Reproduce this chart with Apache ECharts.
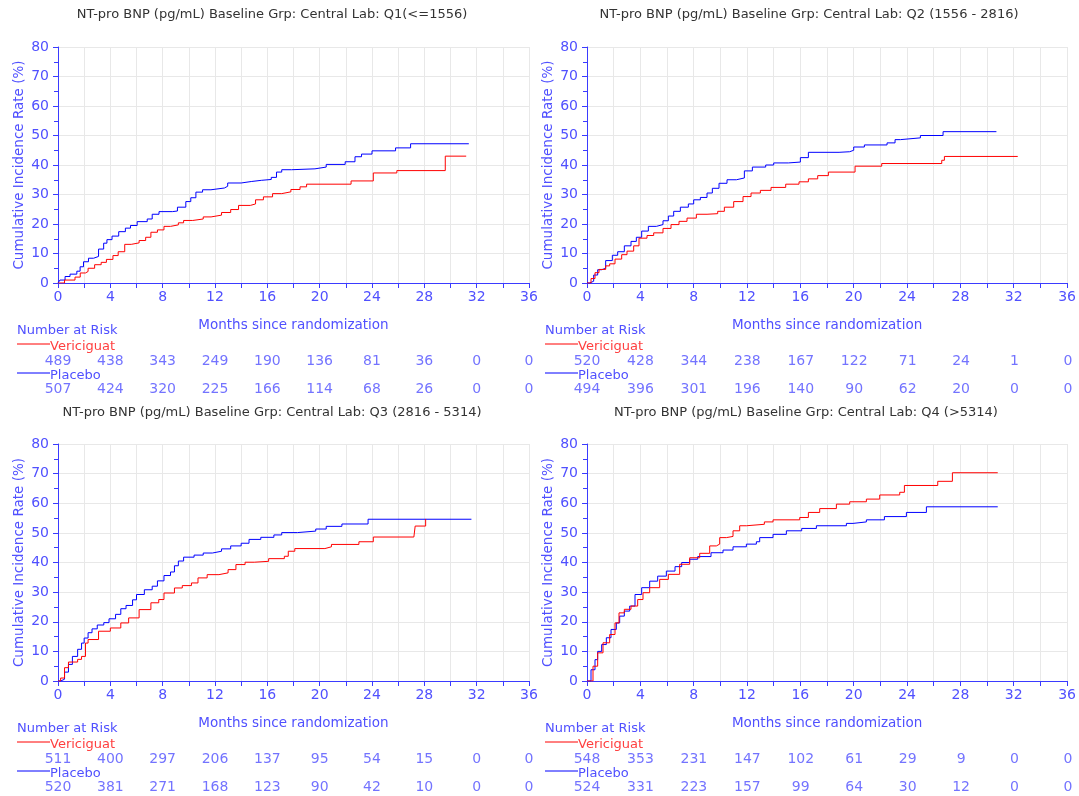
<!DOCTYPE html>
<html><head><meta charset="utf-8">
<script src="https://cdn.jsdelivr.net/npm/echarts@6/dist/echarts.min.js"></script>
<style>html,body{margin:0;padding:0;background:#fff}#c{width:1079px;height:796px}</style>
</head><body><div id="c"></div>
<script>
const panelTitles = [
  'NT-pro BNP (pg/mL) Baseline Grp: Central Lab: Q1(<=1556)',
  'NT-pro BNP (pg/mL) Baseline Grp: Central Lab: Q2 (1556 - 2816)',
  'NT-pro BNP (pg/mL) Baseline Grp: Central Lab: Q3 (2816 - 5314)',
  'NT-pro BNP (pg/mL) Baseline Grp: Central Lab: Q4 (>5314)'
];
const groupNames = ['Vericiguat', 'Placebo'];
const riskMonths = [0, 4, 8, 12, 16, 20, 24, 28, 32, 36];

const q1Vericiguat = [[0,0],[0.5,1.0],[1.3,2.0],[1.7,3.4],[2.1,3.9],[2.3,5.0],[2.8,6.2],[3.3,7.0],[3.7,8.0],[4.2,9.3],[4.6,10.6],[5.1,13.1],[5.6,13.6],[6.2,14.4],[6.7,15.5],[7.1,17.2],[7.6,18.0],[8.1,19.2],[8.6,19.7],[9.2,20.4],[9.6,21.2],[10.3,21.7],[11.1,22.4],[11.7,23.0],[12.5,23.9],[13.2,24.9],[13.8,26.3],[14.7,26.8],[15.1,28.2],[15.7,29.2],[16.4,30.3],[17.1,30.9],[17.8,31.7],[18.5,32.6],[19.0,33.5],[22.4,34.6],[24.1,37.3],[25.9,38.1],[29.6,43.0],[31.2,43.0]];
const q1Placebo = [[0,0],[0.15,1.0],[0.54,2.2],[0.92,3.0],[1.44,4.0],[1.69,5.5],[1.95,7.2],[2.33,8.4],[2.72,9.0],[3.1,11.5],[3.49,13.5],[3.74,14.7],[4.13,15.9],[4.64,17.4],[5.15,18.6],[5.54,19.5],[6.05,20.8],[6.82,21.7],[7.2,23.3],[7.72,24.2],[8.74,24.4],[9.13,25.7],[9.77,27.6],[10.15,28.9],[10.54,30.8],[11.05,31.6],[11.69,32.2],[12.72,32.8],[12.97,33.9],[14,34.4],[14.77,34.8],[15.54,35.1],[16.3,35.8],[16.7,37.6],[17.1,38.4],[17.85,38.7],[19.64,39.3],[20.5,40.2],[21.95,41.1],[22.7,42.8],[23.2,43.7],[24,44.8],[25.8,45.8],[26.95,47.2],[31.4,47.2]];
const q2Vericiguat = [[0,0],[0.3,1.5],[0.6,3.5],[0.9,4.6],[1.4,5.8],[1.7,6.5],[2.1,8.1],[2.6,9.6],[3.0,10.8],[3.5,12.6],[3.9,15.2],[4.5,16.1],[5.0,17.0],[5.7,18.5],[6.3,19.8],[6.9,20.9],[7.5,22.0],[8.2,23.3],[9.0,23.5],[9.8,24.3],[10.3,25.7],[11.0,27.6],[11.7,29.3],[12.3,30.5],[13.0,31.4],[13.8,32.4],[14.9,33.5],[15.9,34.3],[16.6,35.3],[17.3,36.4],[18.1,37.6],[20.1,39.6],[22.1,40.5],[26.6,41.6],[26.8,42.9],[32.3,42.9]];
const q2Placebo = [[0,0],[0.2,0.6],[0.5,2.7],[0.8,4.5],[1.1,5.0],[1.4,7.6],[1.9,9.4],[2.3,10.6],[2.8,12.6],[3.3,14.1],[3.7,15.5],[4.1,17.6],[4.6,19.2],[5.2,19.8],[5.7,21.1],[6.1,22.7],[6.5,24.3],[7.0,25.7],[7.6,26.8],[8.0,28.2],[8.5,29.0],[9.0,30.5],[9.4,32.1],[9.9,33.8],[10.5,35.0],[11.2,35.6],[11.8,38.0],[12.4,39.3],[13.4,40.0],[14.0,40.7],[15.1,41.0],[16.0,42.5],[16.6,44.3],[18.9,44.5],[19.7,45.0],[20.0,46.1],[20.8,46.8],[22.5,47.5],[23.1,48.6],[23.5,49.2],[25.0,50.0],[26.7,51.3],[30.7,51.3]];
const q3Vericiguat = [[0,0],[0.2,1.0],[0.5,4.5],[0.8,6.4],[1.5,7.3],[1.8,8.3],[2.1,12.8],[2.3,14.0],[3.1,16.8],[4.0,17.9],[4.8,19.6],[5.4,21.3],[6.2,24.1],[7.1,26.4],[7.7,27.5],[8.1,29.7],[8.9,31.4],[9.5,32.2],[10.2,33.1],[10.7,34.8],[11.4,35.9],[12.3,36.5],[13.0,37.6],[13.6,39.3],[14.3,40.1],[15.0,40.4],[16.1,41.3],[17.3,42.1],[17.6,43.8],[18.1,44.7],[20.4,45.3],[20.9,46.1],[23.0,47.0],[24.1,48.6],[27.2,48.9],[27.3,52.3],[28.1,54.7],[28.15,54.7]];
const q3Placebo = [[0,0],[0.2,0.6],[0.5,3.0],[0.8,5.6],[1.1,8.3],[1.5,10.7],[1.8,12.8],[2.0,14.5],[2.3,16.3],[2.6,17.6],[3.0,18.9],[3.5,19.7],[3.9,21.0],[4.4,22.5],[4.8,24.4],[5.2,25.5],[5.7,27.4],[6.0,29.2],[6.6,30.8],[7.2,32.0],[7.6,33.8],[8.1,35.6],[8.6,36.8],[8.9,38.9],[9.2,40.5],[9.6,41.8],[10.4,42.5],[11.1,43.2],[11.8,43.8],[12.5,44.6],[13.2,45.6],[14.0,46.5],[14.6,47.8],[15.5,48.5],[16.5,49.3],[17.1,50.1],[18.3,50.6],[19.7,51.3],[20.5,52.2],[21.7,53.0],[23.7,54.6],[31.6,54.6]];
const q4Vericiguat = [[0,0],[0.45,5.0],[0.8,9.5],[1.2,12.9],[1.7,15.7],[2.1,19.6],[2.4,23.0],[2.8,24.2],[3.3,25.3],[3.8,27.5],[4.2,29.8],[4.7,31.5],[5.45,34.3],[6.1,36.0],[6.95,39.4],[7.7,41.6],[8.45,43.1],[9.2,45.6],[9.7,46.2],[9.95,48.4],[10.45,48.8],[10.95,50.7],[11.45,52.4],[11.95,52.9],[13.3,53.7],[13.95,54.4],[15.95,55.2],[16.6,56.9],[17.45,58.2],[18.7,59.7],[19.7,60.5],[20.95,61.4],[21.95,62.8],[23.45,63.7],[23.8,66.0],[26.3,67.4],[27.4,70.3],[30.8,70.3]];
const q4Placebo = [[0,0],[0.3,3.8],[0.6,7.2],[0.8,10.0],[1.1,12.3],[1.45,14.6],[1.8,17.4],[2.2,19.6],[2.45,21.9],[2.8,23.6],[3.2,25.3],[3.6,29.2],[4.1,31.5],[4.7,33.7],[5.3,35.4],[5.95,37.1],[6.6,38.6],[7.1,40.0],[7.7,41.1],[8.3,42.0],[9.3,43.3],[10.2,44.2],[10.95,45.3],[11.95,46.2],[12.7,47.0],[12.95,48.4],[13.95,49.5],[14.95,50.7],[16.1,51.5],[17.2,52.4],[19.45,53.2],[19.95,53.7],[20.95,54.4],[22.3,55.5],[23.95,56.9],[25.45,58.8],[30.8,58.8]];

const q1RiskVericiguat = [489, 438, 343, 249, 190, 136, 81, 36, 0, 0];
const q1RiskPlacebo    = [507, 424, 320, 225, 166, 114, 68, 26, 0, 0];
const q2RiskVericiguat = [520, 428, 344, 238, 167, 122, 71, 24, 1, 0];
const q2RiskPlacebo    = [494, 396, 301, 196, 140, 90, 62, 20, 0, 0];
const q3RiskVericiguat = [511, 400, 297, 206, 137, 95, 54, 15, 0, 0];
const q3RiskPlacebo    = [520, 381, 271, 168, 123, 90, 42, 10, 0, 0];
const q4RiskVericiguat = [548, 353, 231, 147, 102, 61, 29, 9, 0, 0];
const q4RiskPlacebo    = [524, 331, 223, 157, 99, 64, 30, 12, 0, 0];

const curves = [[q1Vericiguat, q1Placebo],[q2Vericiguat, q2Placebo],[q3Vericiguat, q3Placebo],[q4Vericiguat, q4Placebo]];
const risks = [[q1RiskVericiguat, q1RiskPlacebo],[q2RiskVericiguat, q2RiskPlacebo],[q3RiskVericiguat, q3RiskPlacebo],[q4RiskVericiguat, q4RiskPlacebo]];

const FONT = 'DejaVu Sans';
const RED = '#ff0000', BLUE = '#0000ff';
const AXIS = '#3b3bff', LABEL = '#5050ff';

const layout = [
  {left:58, width:471, top:47, height:236, titleX:272, titleY:15, riskTop:361, nrY:331, leg1:344, leg2:373, lx:17},
  {left:587, width:481, top:47, height:236, titleX:809, titleY:15, riskTop:361, nrY:331, leg1:344, leg2:373, lx:545},
  {left:58, width:471, top:444, height:237, titleX:272, titleY:413, riskTop:759, nrY:729, leg1:742, leg2:771, lx:17},
  {left:587, width:481, top:444, height:237, titleX:806, titleY:413, riskTop:759, nrY:729, leg1:742, leg2:771, lx:545}
];

const grid = [], xAxis = [], yAxis = [], series = [], graphic = [];
layout.forEach((L, i) => {
  grid.push({left:L.left, top:L.top, width:L.width, height:L.height});
  grid.push({left:L.left, top:L.riskTop, width:L.width, height:28});
  const gi = i*2;
  xAxis.push({
    gridIndex:gi, type:'value', min:0, max:36, interval:4,
    name:'Months since randomization', nameLocation:'middle', nameGap:35,
    nameTextStyle:{color:LABEL, fontFamily:FONT, fontSize:13.5},
    axisLine:{show:true, onZero:false, lineStyle:{color:AXIS, width:1}},
    axisTick:{show:true, length:5, lineStyle:{color:AXIS}},
    minorTick:{show:true, splitNumber:2, length:5, lineStyle:{color:AXIS}},
    axisLabel:{color:LABEL, fontFamily:FONT, fontSize:14, margin:7},
    splitLine:{show:true, lineStyle:{color:'#e8e8e8'}},
    minorSplitLine:{show:true, lineStyle:{color:'#e8e8e8'}}
  });
  yAxis.push({
    gridIndex:gi, type:'value', min:0, max:80, interval:10, offset:3,
    name:'Cumulative Incidence Rate (%)', nameLocation:'middle', nameGap:29,
    nameTextStyle:{color:LABEL, fontFamily:FONT, fontSize:13.5},
    axisLine:{show:true, lineStyle:{color:AXIS, width:1}},
    axisTick:{show:true, length:5, lineStyle:{color:AXIS}},
    minorTick:{show:true, splitNumber:2, length:4, lineStyle:{color:AXIS}},
    axisLabel:{color:LABEL, fontFamily:FONT, fontSize:14, margin:6},
    splitLine:{show:true, lineStyle:{color:'#e8e8e8'}}
  });
  xAxis.push({gridIndex:gi+1, type:'value', min:0, max:36, show:false});
  yAxis.push({gridIndex:gi+1, type:'value', min:0, max:1, show:false});
  const cols = [RED, BLUE];
  curves[i].forEach((d, k) => {
    series.push({
      type:'line', name:groupNames[k], xAxisIndex:gi, yAxisIndex:gi, data:d,
      step:'end', symbol:'none', silent:true, animation:false,
      lineStyle:{color:cols[k], width:1}, z: k===0 ? 3 : 2
    });
  });
  risks[i].forEach((arr, k) => {
    series.push({
      type:'scatter', xAxisIndex:gi+1, yAxisIndex:gi+1, symbolSize:1, animation:false, silent:true,
      itemStyle:{color:'rgba(0,0,0,0)'},
      data: arr.map((v, j) => [riskMonths[j], k===0 ? 1 : 0, v]),
      label:{show:true, position:'inside', color:LABEL, fontFamily:FONT, fontSize:14,
        formatter: p => String(p.value[2])}
    });
  });
  graphic.push({type:'text', x:L.titleX, y:L.titleY, style:{text:panelTitles[i], fill:'#333', font:'13px "'+FONT+'"', textAlign:'center', textVerticalAlign:'middle'}});
  graphic.push({type:'text', x:L.lx, y:L.nrY, style:{text:'Number at Risk', fill:LABEL, font:'13px "'+FONT+'"', textAlign:'left', textVerticalAlign:'middle'}});
  graphic.push({type:'line', shape:{x1:L.lx, y1:L.leg1, x2:L.lx+33, y2:L.leg1}, style:{stroke:RED, lineWidth:1}});
  graphic.push({type:'text', x:L.lx+33, y:L.leg1+3, style:{text:groupNames[0], fill:'#ff4040', font:'13px "'+FONT+'"', textAlign:'left', textVerticalAlign:'middle'}});
  graphic.push({type:'line', shape:{x1:L.lx, y1:L.leg2, x2:L.lx+33, y2:L.leg2}, style:{stroke:BLUE, lineWidth:1}});
  graphic.push({type:'text', x:L.lx+33, y:L.leg2+3, style:{text:groupNames[1], fill:LABEL, font:'13px "'+FONT+'"', textAlign:'left', textVerticalAlign:'middle'}});
});

const chart = echarts.init(document.getElementById('c'), null, {renderer:'canvas'});
chart.setOption({animation:false, backgroundColor:'#fff', grid, xAxis, yAxis, series, graphic});
</script></body></html>
